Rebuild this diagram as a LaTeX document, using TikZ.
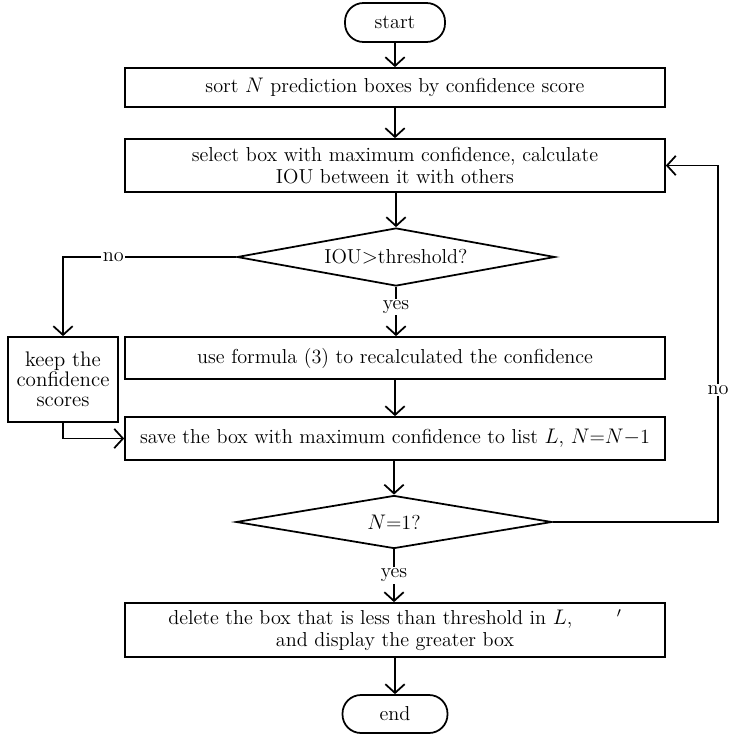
\documentclass[tikz,border=0pt]{standalone}
\usepackage{amsmath}
\usepackage{tikz}
\usetikzlibrary{arrows.meta}
\usetikzlibrary{shapes.geometric}

\tikzset{
  flowbox/.style={draw,line width=1pt,minimum width=10.8cm,inner sep=2pt,align=center,font=\fontsize{11.5}{12.5}\selectfont},
  termbox/.style={draw,line width=1pt,rounded corners=10.5pt,minimum width=2cm,minimum height=0.78cm,font=\fontsize{11.5}{12.5}\selectfont},
  testbox/.style={draw,diamond,line width=1pt,aspect=5.5,inner sep=0pt,font=\fontsize{11.5}{12.5}\selectfont},
  flowlabel/.style={fill=white,inner sep=1pt,font=\fontsize{11.5}{12.5}\selectfont},
  flowarrow/.style={line width=1pt,-{Straight Barb[length=5pt,width=11pt]}}
}

\begin{document}
\begin{tikzpicture}[x=0.02cm,y=-0.02cm]
\useasboundingbox (0,0) rectangle (730,734);
% main column
\node[termbox] (start) at (395,22.5) {start};
\node[flowbox,minimum height=0.78cm] (sort) at (395,87.5) {sort \(N\) prediction boxes by confidence score};
\node[flowbox,minimum height=1.06cm] (select) at (395,165.5) {select box with maximum confidence, calculate\\IOU between it with others};
\node[testbox,minimum width=6.36cm,minimum height=1.16cm] (iou) at (396,257) {IOU\(>\)threshold?};
\node[flowbox,minimum height=0.84cm] (formula) at (395,358) {use formula (3) to recalculated the confidence};
\node[draw,line width=1pt,minimum width=2.2cm,minimum height=1.7cm,inner sep=1pt,align=center,font=\fontsize{12}{11.5}\selectfont] (keep) at (63,379.5) {keep the\\confidence\\scores};
\node[flowbox,minimum height=0.86cm] (save) at (395,438.5) {save the box with maximum confidence to list \(L\), \(N\)=\(N\)\(-\)1};
\node[testbox,minimum width=6.32cm,minimum height=1.06cm] (last) at (394,522) {\(N\)=1?};
\node[flowbox,minimum height=1.08cm] (delete) at (395,630) {delete the box that is less than threshold in \(L\),\hspace{2.2em}\('\)\\and display the greater box};
\node[termbox,minimum width=2.1cm,minimum height=0.76cm] (end) at (395,714) {end};
% corner points of the loops
\coordinate (noleft) at (63,257);
\coordinate (noright) at (718,522);
\coordinate (backin) at (718,165.5);

\draw[flowarrow] (start) -- (sort);
\draw[flowarrow] (sort) -- (select);
\draw[flowarrow] (select.south -| iou.north) -- (iou.north);
\draw[flowarrow] (iou.south) -- node[flowlabel,pos=0.41] {yes} (formula.north -| iou.south);
\draw[flowarrow] (iou.west) -- node[flowlabel,pos=0.71] {no} (noleft) -- (keep.north);
\draw[flowarrow] (keep.south) |- (save.west);
\draw[flowarrow] (formula) -- (save);
\draw[flowarrow] (save.south -| last.north) -- (last.north);
\draw[flowarrow] (last.south) -- node[flowlabel,pos=0.49] {yes} (delete.north -| last.south);
\draw[flowarrow] (last.east) -- (noright) -- node[flowlabel,pos=0.37] {no} (backin) -- (select.east);
\draw[flowarrow] (delete) -- (end);
\end{tikzpicture}
\end{document}
